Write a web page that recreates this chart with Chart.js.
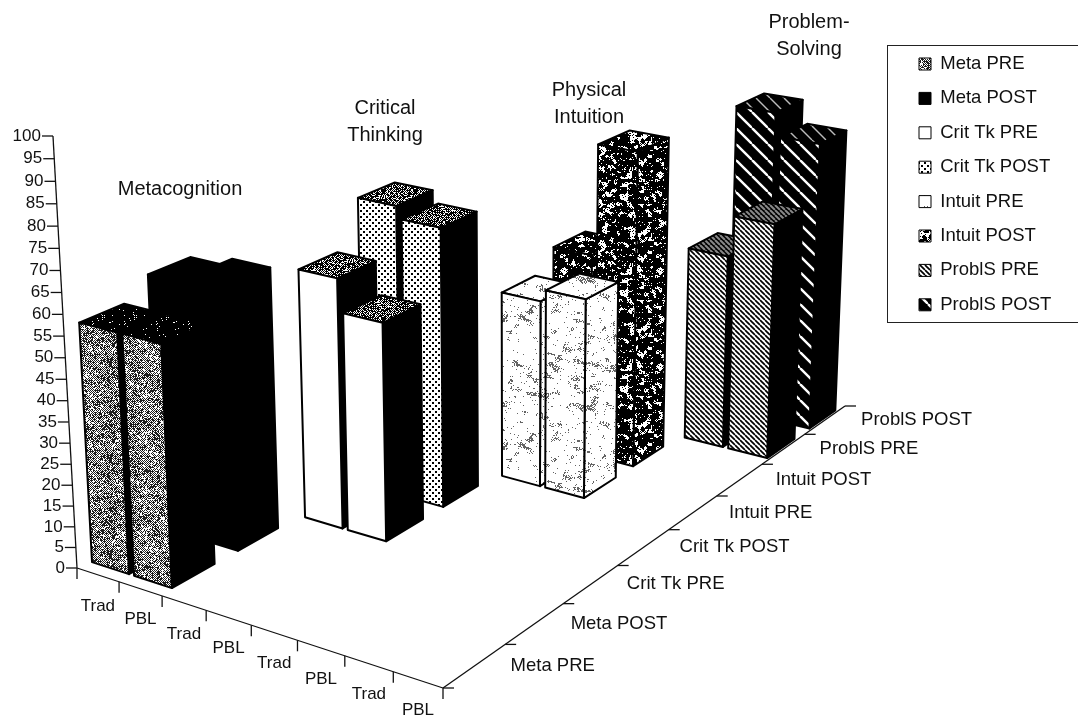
<!DOCTYPE html>
<html>
<head>
<meta charset="utf-8">
<title>Pre and post scores</title>
<script src="https://cdn.jsdelivr.net/npm/chart.js@4/dist/chart.umd.min.js"></script>
<style>
    html, body { margin: 0; padding: 0; background: #fff; }
    canvas { display: block; }
</style>
</head>
<body>
<canvas id="chart3d" width="1078" height="721"></canvas>
<script>
// chart values
const seriesNames = ['Meta PRE', 'Meta POST', 'Crit Tk PRE', 'Crit Tk POST', 'Intuit PRE', 'Intuit POST', 'ProblS PRE', 'ProblS POST'];
const columnLabels = ['Trad', 'PBL', 'Trad', 'PBL', 'Trad', 'PBL', 'Trad', 'PBL'];
const metaPre = [57, 57];
const metaPost = [61.5, 63.5];
const critPre = [61, 53];
const critPost = [72, 69];
const intuitPre = [47, 50];
const intuitPost = [52, 80];
const problPre = [50, 60.5];
const problPost = [81, 75];
const seriesValues = [metaPre, metaPost, critPre, critPost, intuitPre, intuitPost, problPre, problPost];
const yTicksStep = 5;

const groupTitles = [
    { lines: ['Metacognition'], x: 180, y: 189 },
    { lines: ['Critical', 'Thinking'], x: 385, y: 108 },
    { lines: ['Physical', 'Intuition'], x: 589, y: 90 },
    { lines: ['Problem-', 'Solving'], x: 809, y: 22 }
];

// perspective of the floor and the vertical axis
const cornerA = [77, 568, 1.10];
const cornerB = [443, 688, 1.00];
const cornerC = [845, 406, 1.28];
const axisTop = [53, 136];
const vanishY = [516, 8465];
const barInsetX = 0.06;
const barInsetZ = 0.18;

function homog(p) {
    return [p[0] * p[2], p[1] * p[2], p[2]];
}
const hA = homog(cornerA);
const hB = homog(cornerB);
const hC = homog(cornerC);
const hD = [hC[0] + hA[0] - hB[0], hC[1] + hA[1] - hB[1], hC[2] + hA[2] - hB[2]];
const vw = (axisTop[1] * hA[2] - hA[1]) / (vanishY[1] - axisTop[1]);
const hV = [vw * vanishY[0], vw * vanishY[1], vw];

// textures, seeded so every run gives the same picture
function makeRand(seed) {
    let s = seed;
    return function() {
        s = (s * 1664525 + 1013904223) % 4294967296;
        return s / 4294967296;
    };
}

function tile(w, h, paint) {
    const c = document.createElement('canvas');
    c.width = w;
    c.height = h;
    paint(c.getContext('2d'), w, h);
    return c.getContext('2d').createPattern(c, 'repeat');
}

function noiseGrid(rand, n) {
    const g = [];
    for (let i = 0; i < n * n; i++) g.push(rand());
    return (x, y) => {
        const x0 = Math.floor(x), y0 = Math.floor(y);
        const fx = x - x0, fy = y - y0;
        const at = (a, b) => g[((a % n) + n) % n + (((b % n) + n) % n) * n];
        return (at(x0, y0) * (1 - fx) + at(x0 + 1, y0) * fx) * (1 - fy) +
            (at(x0, y0 + 1) * (1 - fx) + at(x0 + 1, y0 + 1) * fx) * fy;
    };
}

function pixelTile(size, seed, shade, ink) {
    return tile(size, size, (ctx, w, h) => {
        const rand = makeRand(seed);
        const img = ctx.createImageData(w, h);
        for (let y = 0; y < h; y++) {
            for (let x = 0; x < w; x++) {
                const v = shade(x, y, rand) ? (ink || 0) : 255;
                const i = (y * w + x) * 4;
                img.data[i] = img.data[i + 1] = img.data[i + 2] = v;
                img.data[i + 3] = 255;
            }
        }
        ctx.putImageData(img, 0, 0);
    });
}

function stripes(period, width, back, line) {
    return tile(period, period, (ctx, w, h) => {
        ctx.fillStyle = back;
        ctx.fillRect(0, 0, w, h);
        ctx.strokeStyle = line;
        ctx.lineWidth = width;
        for (let k = -1; k <= 1; k++) {
            ctx.beginPath();
            ctx.moveTo(k * w, 0);
            ctx.lineTo(k * w + w, h);
            ctx.stroke();
        }
    });
}

const grid1 = noiseGrid(makeRand(11), 16);
const grid2 = noiseGrid(makeRand(29), 32);
const grid3 = noiseGrid(makeRand(47), 32);

const metaTexture = pixelTile(96, 5, (x, y, r) => {
    const n = grid1(x / 6, y / 3);
    const dens = 0.54 + (n - 0.5) * 0.4;
    return (x + y) % 2 === 0 ? r() < dens + 0.35 : r() < dens - 0.3;
}, 30);
const metaTop = pixelTile(32, 9, (x, y, r) => r() < 0.96);
const darkTop = pixelTile(32, 7, (x, y, r) => (x + y) % 2 === 0 ? r() < 0.9 : r() < 0.42);
const dotted = tile(6, 6, (ctx) => {
    ctx.fillStyle = '#fff';
    ctx.fillRect(0, 0, 6, 6);
    ctx.fillStyle = '#000';
    ctx.fillRect(0, 0, 2, 2);
    ctx.fillRect(3, 3, 2, 2);
});
const intuitLight = pixelTile(128, 13, (x, y, r) => {
    const n = grid3((x + y * 0.4) / 8, (y - x * 0.25) / 4);
    return r() < (n > 0.74 ? 0.55 : n > 0.62 ? 0.14 : 0.02);
}, 100);
const intuitDark = pixelTile(96, 17, (x, y, r) => {
    const n = grid2(x / 3, y / 3);
    return n < 0.63 ? r() < 0.97 : r() < 0.22;
});
const thinStripes = stripes(5, 1.7, '#fff', '#000');
const wideStripes = stripes(16, 2.4, '#000', '#fff');
const darkStripes = stripes(5, 2, '#000', '#888');
const blackTopStripes = stripes(14, 1.4, '#000', '#bbb');

// front, side and top fill per series
const seriesFront = [metaTexture, '#000', '#fff', dotted, intuitLight, intuitDark, thinStripes, wideStripes];
const seriesSide = ['#000', '#000', '#000', '#000', intuitLight, intuitDark, '#000', '#000'];
const seriesTop = [metaTop, '#000', darkTop, darkTop, intuitLight, intuitDark, darkStripes, blackTopStripes];

const datasets = seriesNames.map((name, i) => {
    const col = Math.floor(i / 2) * 2;
    return {
        label: name,
        data: seriesValues[i].map((v, k) => ({ x: col + k, y: v })),
        backgroundColor: seriesFront[i],
        borderColor: '#000',
        borderWidth: 1,
        showLine: false,
        pointRadius: 0
    };
});

const bars3d = {
    id: 'bars3d',
    beforeDraw(chart) {
        const ctx = chart.ctx;
        ctx.save();
        ctx.fillStyle = '#fff';
        ctx.fillRect(0, 0, chart.width, chart.height);
        // legend frame
        ctx.strokeStyle = '#222';
        ctx.lineWidth = 1;
        ctx.strokeRect(887.5, 45.5, 200, 277);
        ctx.restore();
    },
    afterLayout(chart) {
        // the legend has no free position of its own
        const legend = chart.legend;
        legend.left = 903.1;
        legend.right = legend.left + legend.width;
        legend.top = 38.85;
        legend.bottom = legend.top + legend.height;
    },
    afterDatasetsDraw(chart) {
        const ctx = chart.ctx;
        const xS = chart.scales.x;
        const zS = chart.scales.z;
        const yS = chart.scales.y;

        function project(x, z, val) {
            const u = (xS.getPixelForValue(x) - xS.left) / xS.width;
            const v = (zS.getPixelForValue(z) - zS.left) / zS.width;
            const h = (yS.bottom - yS.getPixelForValue(val)) / yS.height;
            const p = [0, 1, 2].map(n => hA[n] + u * (hB[n] - hA[n]) + v * (hD[n] - hA[n]) + h * hV[n]);
            return [p[0] / p[2], p[1] / p[2]];
        }

        function line(a, b) {
            ctx.beginPath();
            ctx.moveTo(a[0], a[1]);
            ctx.lineTo(b[0], b[1]);
            ctx.stroke();
        }

        function face(points, fill) {
            ctx.beginPath();
            points.forEach((p, i) => (i ? ctx.lineTo(p[0], p[1]) : ctx.moveTo(p[0], p[1])));
            ctx.closePath();
            ctx.fillStyle = fill;
            ctx.fill();
            ctx.stroke();
        }

        ctx.save();
        ctx.lineJoin = 'round';

        // axes
        ctx.strokeStyle = '#111';
        ctx.lineWidth = 1.3;
        line(project(0, 0, 0), project(8, 0, 0));
        line(project(8, 0, 0), project(8, 8, 0));
        line(project(0, 0, 0), project(0, 0, 100));

        ctx.fillStyle = '#111';
        ctx.textBaseline = 'middle';
        ctx.font = '17px "Liberation Sans"';
        ctx.textAlign = 'right';
        yS.ticks.forEach(t => {
            const p = project(0, 0, t.value);
            line([p[0] - 11, p[1]], p);
            ctx.fillText(String(t.value), p[0] - 12, p[1]);
        });

        ctx.textAlign = 'center';
        for (let i = 0; i <= 8; i++) {
            const p = project(i, 0, 0);
            line(p, [p[0], p[1] + 11]);
        }
        columnLabels.forEach((label, i) => {
            const p = project(i + 0.5, 0, 0);
            ctx.fillText(label, p[0], p[1] + 31);
        });

        ctx.textAlign = 'left';
        ctx.font = '18.5px "Liberation Sans"';
        for (let i = 0; i <= 8; i++) {
            const p = project(8, i, 0);
            line(p, [p[0] + 11, p[1]]);
        }
        seriesNames.forEach((name, i) => {
            const p = project(8, i + 0.5, 0);
            ctx.fillText(name, p[0] + 36, p[1]);
        });

        // far series first, left bar before right bar
        ctx.strokeStyle = '#000';
        ctx.lineWidth = 2;
        for (let d = datasets.length - 1; d >= 0; d--) {
            datasets[d].data.forEach(pt => {
                const x0 = pt.x + barInsetX, x1 = pt.x + 1 - barInsetX;
                const z0 = d + barInsetZ, z1 = d + 1 - barInsetZ;
                const y = pt.y;
                face([project(x1, z0, 0), project(x1, z1, 0), project(x1, z1, y), project(x1, z0, y)], seriesSide[d]);
                face([project(x0, z0, y), project(x1, z0, y), project(x1, z1, y), project(x0, z1, y)], seriesTop[d]);
                face([project(x0, z0, 0), project(x1, z0, 0), project(x1, z0, y), project(x0, z0, y)], seriesFront[d]);
            });
        }

        // group titles
        ctx.fillStyle = '#111';
        ctx.textAlign = 'center';
        ctx.font = '20px "Liberation Sans"';
        groupTitles.forEach(t => {
            t.lines.forEach((text, i) => ctx.fillText(text, t.x, t.y + i * 27));
        });
        ctx.restore();
    }
};

new Chart(document.getElementById('chart3d'), {
    type: 'scatter',
    data: { datasets: datasets },
    plugins: [bars3d],
    options: {
        responsive: false,
        animation: false,
        events: [],
        layout: {
            padding: { left: cornerA[0], right: 1078 - cornerB[0], top: axisTop[1], bottom: 721 - cornerA[1] }
        },
        scales: {
            x: { type: 'linear', min: 0, max: 8, display: false },
            z: { type: 'linear', axis: 'x', min: 0, max: 8, display: false },
            y: { type: 'linear', min: 0, max: 100, display: false, ticks: { stepSize: yTicksStep } }
        },
        plugins: {
            tooltip: { enabled: false },
            legend: {
                position: 'chartArea',
                align: 'start',
                labels: {
                    boxWidth: 12,
                    boxHeight: 12,
                    padding: 15.9,
                    color: '#111',
                    font: { family: '"Liberation Sans"', size: 18.5 }
                }
            }
        }
    }
});
</script>
</body>
</html>
